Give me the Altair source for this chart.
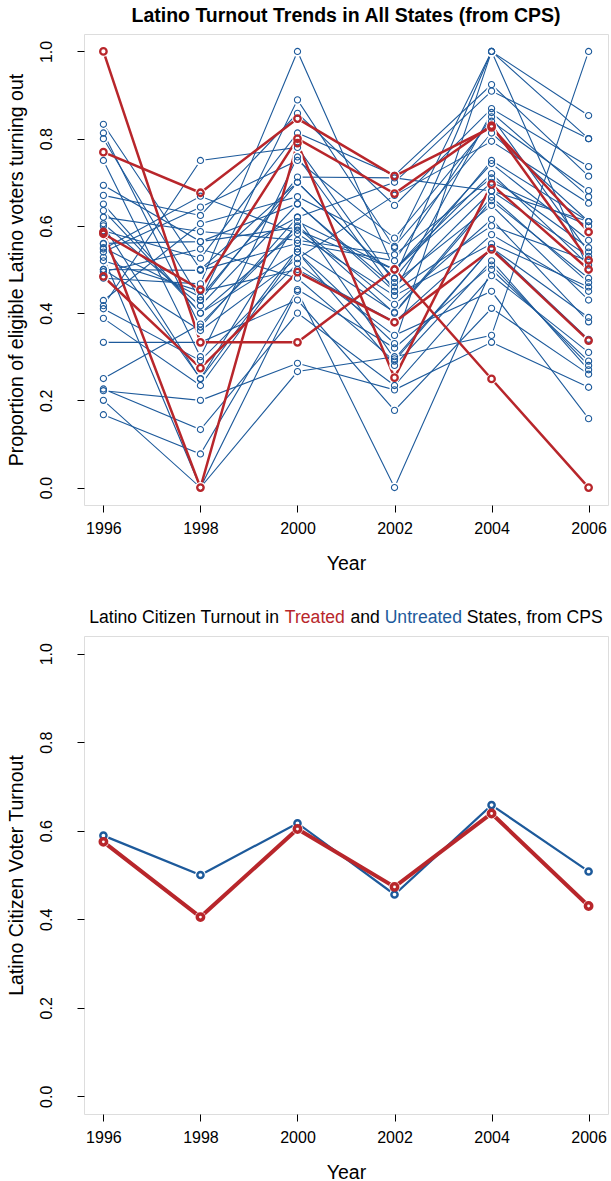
import altair as alt
import pandas as pd

years = [1996, 1998, 2000, 2002, 2004, 2006]

# Top panel: treated states (red)
treated_lines = [
    [1.0, 0.333, 0.333, 0.50, 0.249, 0.0],
    [0.769, 0.676, 0.846, 0.714, 0.826, 0.586],
    [0.582, 0.454, 0.80, 0.674, 0.83, 0.521],
    [0.484, 0.274, 0.494, 0.379, 0.546, 0.337],
    [0.586, 0.0, 0.79, 0.252, 0.695, 0.50],
]

# Top panel: untreated states (blue)
untreated_lines = [
    [0.833, 0.50, 0.70, 0.48, 0.75, 0.61],
    [0.813, 0.368, 0.62, 0.70, 0.909, 0.80],
    [0.80, 0.43, 0.889, 0.55, 1.0, 0.853],
    [0.75, 0.30, 0.758, 0.45, 0.86, 0.667],
    [0.693, 0.564, 0.597, 0.40, 0.658, 0.48],
    [0.67, 0.624, 0.858, 0.647, 0.869, 0.736],
    [0.635, 0.40, 0.54, 0.33, 1.0, 0.80],
    [0.62, 0.587, 0.567, 0.534, 0.71, 0.55],
    [0.605, 0.417, 0.65, 0.46, 0.68, 0.53],
    [0.589, 0.526, 0.813, 0.716, 0.924, 0.714],
    [0.559, 0.25, 0.61, 0.50, 0.743, 0.567],
    [0.547, 0.668, 0.582, 0.44, 0.559, 0.46],
    [0.54, 0.643, 0.75, 0.572, 0.84, 0.681],
    [0.528, 0.0, 0.45, 0.0, 0.50, 0.29],
    [0.50, 0.36, 0.525, 0.67, 0.794, 0.652],
    [0.495, 0.547, 0.48, 0.29, 0.55, 0.39],
    [0.48, 0.467, 1.0, 0.50, 0.72, 0.51],
    [0.429, 0.605, 0.667, 0.553, 0.813, 0.61],
    [0.417, 0.75, 0.78, 0.47, 0.647, 0.43],
    [0.41, 0.291, 0.514, 0.349, 0.45, 0.158],
    [0.388, 0.234, 0.54, 0.28, 0.52, 0.27],
    [0.333, 0.333, 0.43, 0.177, 0.411, 0.26],
    [0.25, 0.375, 0.60, 0.42, 0.615, 0.38],
    [0.226, 0.133, 0.40, 0.234, 0.486, 0.31],
    [0.222, 0.20, 0.285, 0.224, 0.333, 0.23],
    [0.20, 0.0, 0.266, 0.30, 0.349, 1.0],
    [0.167, 0.077, 0.454, 0.32, 0.51, 0.28],
    [0.55, 0.437, 0.70, 0.48, 1.0, 0.50],
    [0.50, 0.498, 0.56, 0.52, 0.85, 0.54],
    [0.60, 0.249, 0.547, 0.402, 0.666, 0.47],
    [None, 0.429, 0.712, 0.71, 0.68, 0.61],
    [None, 0.50, 0.62, 0.295, 0.55, 0.34],
    [0.56, 0.564, 0.651, 0.45, 0.60, 0.52],
    [0.65, 0.40, 0.59, 0.50, 0.70, 0.60],
    [0.52, 0.45, 0.50, 0.38, 0.58, 0.45],
]

# Bottom panel: group averages
avg_untreated = [0.589, 0.50, 0.617, 0.456, 0.658, 0.508]
avg_treated = [0.575, 0.405, 0.604, 0.473, 0.639, 0.430]

BLUE = "#1d5a9b"
RED = "#b8262b"
FONT = "Liberation Sans"
W = 524
H1 = 471
H2 = 478


def to_long(lines, group, prefix):
    rows = []
    for i, vals in enumerate(lines):
        for y, v in zip(years, vals):
            if v is not None:
                rows.append({"state": f"{prefix}{i}", "year": y, "value": v, "group": group})
    return pd.DataFrame(rows)


df_t = to_long(treated_lines, "Treated", "t")
df_u = to_long(untreated_lines, "Untreated", "u")
df_all = pd.concat([df_u, df_t], ignore_index=True)

bt = pd.DataFrame({"year": years, "value": avg_treated, "state": "T"})
bu = pd.DataFrame({"year": years, "value": avg_untreated, "state": "U"})
b_all = pd.concat([bu, bt], ignore_index=True)

xscale = alt.Scale(domain=[1995.6, 2006.4], nice=False, zero=False)
yscale = alt.Scale(domain=[-0.04, 1.04], nice=False, zero=False)


def xaxis():
    return alt.Axis(values=years, format="d", title="Year", grid=False, domain=False,
                    tickColor="black", tickSize=7, labelPadding=8, titlePadding=18,
                    labelFontSize=16, titleFontSize=19.5, labelColor="black",
                    titleColor="black", labelFont=FONT, titleFont=FONT,
                    titleFontWeight="normal", labelFlush=False)


def yaxis(title):
    return alt.Axis(values=[0, 0.2, 0.4, 0.6, 0.8, 1.0], format=".1f", title=title,
                    grid=False, domain=False, tickColor="black", tickSize=7,
                    labelPadding=23, titlePadding=12, labelAngle=270,
                    labelAlign="center", labelBaseline="bottom",
                    labelFontSize=16, titleFontSize=19.5, labelColor="black",
                    titleColor="black", labelFont=FONT, titleFont=FONT,
                    titleFontWeight="normal", labelFlush=False)


def enc(base, title):
    return base.encode(
        x=alt.X("year:Q", scale=xscale, axis=xaxis()),
        y=alt.Y("value:Q", scale=yscale, axis=yaxis(title)),
        detail="state:N",
    )


ytitle1 = "Proportion of eligible Latino voters turning out"
top_lines_u = enc(alt.Chart(df_u).mark_line(color=BLUE, strokeWidth=1.1), ytitle1)
top_lines_t = enc(alt.Chart(df_t).mark_line(color=RED, strokeWidth=2.5), ytitle1)
top_mask = enc(alt.Chart(df_all).mark_point(shape="circle", filled=True, color="white", opacity=1, size=110), ytitle1)
top_pts_u = enc(alt.Chart(df_u).mark_point(shape="circle", filled=False, color=BLUE, strokeWidth=1.1, size=38, opacity=1), ytitle1)
top_pts_t = enc(alt.Chart(df_t).mark_point(shape="circle", filled=False, color=RED, strokeWidth=2.3, size=42, opacity=1), ytitle1)

top = alt.layer(top_lines_u, top_lines_t, top_mask, top_pts_u, top_pts_t).properties(
    width=W, height=H1,
    title=alt.TitleParams("Latino Turnout Trends in All States (from CPS)", font=FONT,
                          fontSize=19.5, fontWeight="bold", color="black",
                          anchor="middle", frame="group", offset=8),
)

ytitle2 = "Latino Citizen Voter Turnout"
b_line_u = enc(alt.Chart(bu).mark_line(color=BLUE, strokeWidth=2.2), ytitle2)
b_line_t = enc(alt.Chart(bt).mark_line(color=RED, strokeWidth=4), ytitle2)
b_mask = enc(alt.Chart(b_all).mark_point(shape="circle", filled=True, color="white", opacity=1, size=120), ytitle2)
b_pts_u = enc(alt.Chart(bu).mark_point(shape="circle", filled=False, color=BLUE, strokeWidth=2.5, size=38, opacity=1), ytitle2)
b_pts_t = enc(alt.Chart(bt).mark_point(shape="circle", filled=False, color=RED, strokeWidth=3.5, size=40, opacity=1), ytitle2)

# Multi-coloured title built from word segments (Arial/Liberation Sans advance widths)
ARIAL = {" ": 278, ",": 278, "C": 722, "L": 556, "P": 667, "S": 667, "T": 611, "U": 722,
         "a": 556, "d": 556, "e": 556, "f": 278, "i": 222, "m": 833, "n": 556, "o": 556,
         "r": 333, "s": 500, "t": 278, "u": 556, "z": 500}
title_parts = ["Latino Citizen Turnout in ", "Treated", " and ", "Untreated", " States, from CPS"]
title_colors = ["black", RED, "black", BLUE, "black"]
TFS = 17.6


def text_w(s):
    return sum(ARIAL.get(c, 556) for c in s) * TFS / 1000.0


total_w = sum(text_w(p) for p in title_parts)
x0 = W / 2 - total_w / 2
title_layers = []
for part, colr in zip(title_parts, title_colors):
    lead = len(part) - len(part.lstrip(" "))
    xs = x0 + text_w(" " * lead)
    title_layers.append(
        alt.Chart(pd.DataFrame({"t": [part.strip(" ")]})).mark_text(
            align="left", baseline="middle", font=FONT, fontSize=TFS, color=colr
        ).encode(text="t:N", x=alt.value(xs), y=alt.value(-18))
    )
    x0 += text_w(part)

bottom = alt.layer(b_line_u, b_line_t, b_mask, b_pts_u, b_pts_t, *title_layers).properties(
    width=W, height=H2
)

chart = alt.vconcat(top, bottom, spacing=35).properties(
    padding={"left": 5, "top": 5, "right": 0, "bottom": 0}
).configure_view(stroke="black", strokeWidth=1.2).configure(background="white")

chart.save("out.html", embed_options={"renderer": "svg", "actions": False})
